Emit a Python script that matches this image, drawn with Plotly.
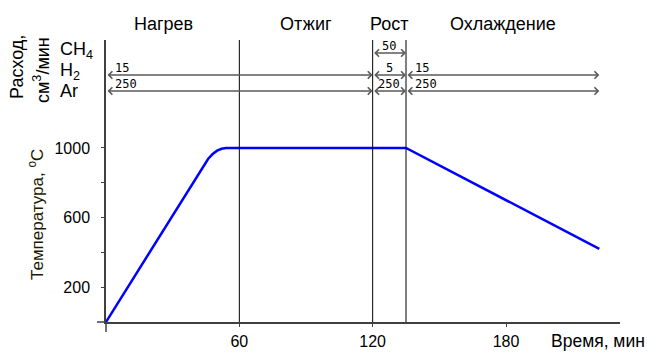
import plotly.graph_objects as go

# Temperature profile of the process (time in minutes, temperature in deg C)
time_min = [0, 44, 46, 48, 50, 52, 54, 135, 222]
temp_c = [0, 902, 938, 965, 984, 995, 1000, 1000, 420]

# Process stages and their time boundaries
stages = ["Нагрев", "Отжиг", "Рост", "Охлаждение"]
stage_bounds = [0, 60, 120, 135, 222]

# Gas flows, cm3/min: (start, end, value) per gas
gases = ["CH<sub>4</sub>", "H<sub>2</sub>", "Ar"]
flow_ch4 = [(120, 135, 50)]
flow_h2 = [(0, 120, 15), (120, 135, 5), (135, 222, 15)]
flow_ar = [(0, 120, 250), (120, 135, 250), (135, 222, 250)]

x_ticks = [60, 120, 180]
y_ticks = [200, 400, 600, 800, 1000]
y_ticktext = ["200", "", "600", "", "1000"]

# figure geometry (pixels)
W, H = 647, 352
L, R, T, B = 106, 27, 40, 30
PW, PH = W - L - R, H - T - B
X_MAX, Y_MAX = 231.3, 1620

def px(p):
    return (p - L) / PW

def py(p):
    return (H - B - p) / PH

def ydata(p):
    return (H - B - p) / PH * Y_MAX

FONT = "Liberation Sans, Arial, sans-serif"
MONO = "DejaVu Sans Mono, monospace"

fig = go.Figure()
fig.add_trace(go.Scatter(x=time_min, y=temp_c, mode="lines",
                         line=dict(color="#0000ff", width=2.5),
                         hoverinfo="skip", showlegend=False))

shapes = []
# stage separators
for b in stage_bounds[1:-1]:
    shapes.append(dict(type="line", xref="x", yref="paper", x0=b, x1=b, y0=0, y1=1,
                       line=dict(color="#000000", width=1)))
# axis crossing stubs
shapes.append(dict(type="line", xref="paper", yref="paper", x0=0, x1=0, y0=0, y1=-10 / PH,
                   line=dict(color="#404040", width=1.5)))
shapes.append(dict(type="line", xref="paper", yref="paper", x0=0, x1=-9 / PW, y0=0, y1=0,
                   line=dict(color="#404040", width=1.5)))

ann = []
# stage titles
for i, s in enumerate(stages):
    mid = (stage_bounds[i] + stage_bounds[i + 1]) / 2
    ann.append(dict(text=s, x=mid, y=py(24), xref="x", yref="paper", showarrow=False,
                    xanchor="center", yanchor="middle", xshift=-9 if i == 0 else 0,
                    font=dict(family=FONT, size=18, color="#000000")))

# flow rows: line position (px) and gas label position (px)
rows = [(flow_ch4, 53, 50), (flow_h2, 75, 71), (flow_ar, 91, 91)]
for (segs, line_px, lab_px), gname in zip(rows, gases):
    yv = ydata(line_px)
    ann.append(dict(text=gname, x=px(58), y=py(lab_px), xref="paper", yref="paper",
                    showarrow=False, xanchor="left", yanchor="middle",
                    font=dict(family=FONT, size=18, color="#000000")))
    for (a, b, v) in segs:
        ann.append(dict(text="", x=b, y=yv, ax=a, ay=yv, xref="x", yref="y",
                        axref="x", ayref="y", showarrow=True, arrowside="end+start",
                        arrowhead=4, startarrowhead=4, arrowsize=0.9, startarrowsize=0.9,
                        arrowwidth=1.6, arrowcolor="#5a5a5a"))
        narrow = (b - a) < 30
        ann.append(dict(text=str(v), x=(a + b) / 2 if narrow else a, y=yv,
                        xref="x", yref="y", showarrow=False,
                        xanchor="center" if narrow else "left", yanchor="bottom",
                        xshift=0 if narrow else 7, yshift=-2,
                        font=dict(family=MONO, size=12, color="#000000")))

# axis titles and left-hand labels
ann.append(dict(text="Время, мин", x=px(549), y=py(341), xref="paper", yref="paper",
                showarrow=False, xanchor="left", yanchor="middle",
                font=dict(family=FONT, size=17.5, color="#000000")))
ann.append(dict(text="Температура, <sup>o</sup>C", x=px(36), y=py(215), xref="paper",
                yref="paper", showarrow=False, textangle=-90, xanchor="center",
                yanchor="middle", font=dict(family=FONT, size=17, color="#1a1a00")))
ann.append(dict(text="Расход,", x=px(17), y=py(67), xref="paper", yref="paper",
                showarrow=False, textangle=-90, xanchor="center", yanchor="middle",
                font=dict(family=FONT, size=18, color="#000000")))
ann.append(dict(text="см<sup>3</sup>/мин", x=px(41), y=py(70), xref="paper", yref="paper",
                showarrow=False, textangle=-90, xanchor="center", yanchor="middle",
                font=dict(family=FONT, size=18, color="#000000")))

fig.update_layout(
    width=W, height=H, margin=dict(l=L, r=R, t=T, b=B, autoexpand=False),
    paper_bgcolor="#ffffff", plot_bgcolor="#ffffff",
    shapes=shapes, annotations=ann, showlegend=False,
    xaxis=dict(range=[0, X_MAX], tickvals=x_ticks, ticks="outside", ticklen=3,
               tickcolor="#404040", showline=True, linecolor="#404040", linewidth=1.5,
               showgrid=False, zeroline=False, ticklabelstandoff=1, automargin=False,
               tickfont=dict(family=FONT, size=16, color="#000000")),
    yaxis=dict(range=[0, Y_MAX], tickvals=y_ticks, ticktext=y_ticktext, ticks="outside",
               ticklen=3, tickcolor="#404040", showline=True, linecolor="#404040",
               linewidth=1.5, showgrid=False, zeroline=False, ticklabelstandoff=8,
               automargin=False,
               tickfont=dict(family=FONT, size=16, color="#000000")),
)

fig.write_html("out.html")
